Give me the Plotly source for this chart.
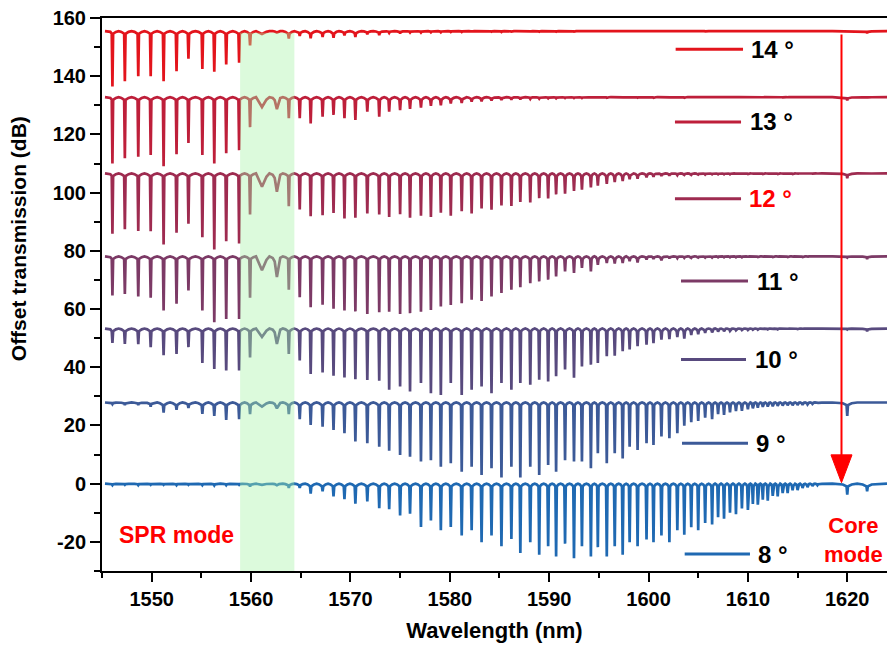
import plotly.graph_objects as go

# ---------------- data ----------------
angle_labels = ["14 °", "13 °", "12 °", "11 °", "10 °", "9 °", "8 °"]
offsets_db = [155.5, 132.8, 106.6, 78.1, 53.3, 27.9, 0.0]
colors = ["#E3141C", "#BE1F3A", "#9E2B50", "#7C3A66", "#584A7E", "#3C5A98", "#1F69B2"]

wl_start = 1545.3
wl_end = 1624.0

# resonance (cladding-mode) wavelengths, nm
dip_wl = [1546.05, 1547.3, 1548.65, 1549.9, 1551.2, 1552.5, 1553.7, 1555.1, 1556.3, 1557.5, 1558.8,
          1559.9, 1561.1, 1562.6, 1563.8, 1564.9, 1566.0, 1567.2, 1568.3, 1569.4, 1570.5, 1571.7, 1572.9,
          1573.9, 1575.0, 1576.0, 1577.1, 1578.1, 1579.1, 1580.1, 1581.2, 1582.2, 1583.2,
          1584.2, 1585.2, 1586.2, 1587.1, 1588.1, 1589.0, 1589.9, 1590.7, 1591.6, 1592.5,
          1593.3, 1594.2, 1594.9, 1595.8, 1596.6, 1597.4, 1598.1, 1598.9, 1599.8, 1600.5,
          1601.3, 1602.1, 1602.9,
          1603.6, 1604.3, 1605.0, 1605.7, 1606.4, 1607.0, 1607.6, 1608.2, 1608.8, 1609.4,
          1610.0, 1610.5, 1611.0, 1611.5, 1612.0, 1612.5, 1613.0, 1613.5, 1614.0, 1614.5,
          1615.0, 1615.5, 1616.0, 1616.5, 1617.0,
          1620.0, 1622.0]

# resonance half-widths, nm (broad SPR-shifted resonances inside the green band)
dip_halfwidth = [0.07] * 12 + [0.45, 0.22] + [0.07] * 69

# resonance depths (dB) per tilt angle
depth_14 = [19.0, 17.2, 15.5, 15.5, 17.2, 13.8, 9.5, 13.0, 14.0, 11.5, 10.9,
            4.9, 1.0, 0.5, 2.6, 1.7, 2.5, 2.0, 2.3, 1.5, 2.0, 1.1, 1.4,
            0.6, 0.8, 0.5, 0.5, 0.4, 0.4, 0.3, 0.3, 0.2, 0.2,
            0.2, 0.3, 0.2, 0.2, 0.3, 0.2, 0.2, 0.2, 0.2, 0.2,
            0.1, 0.1, 0.1, 0.1, 0.1, 0.1, 0.1, 0.1, 0.1, 0.1,
            0.1, 0.1, 0.1,
            0.1, 0.1, 0.1, 0.1, 0.1, 0.1, 0.1, 0.1, 0.1, 0.1,
            0.1, 0.1, 0.1, 0.1, 0.1, 0.1, 0.1, 0.1, 0.1, 0.1,
            0.1, 0.1, 0.1, 0.1, 0.1,
            0.2, 0.7]
depth_13 = [22.8, 21.0, 20.5, 19.9, 23.7, 19.6, 15.7, 19.9, 22.8, 19.3, 18.2,
            10.3, 3.4, 4.1, 7.2, 7.2, 9.0, 6.7, 6.1, 7.2, 7.8, 5.0, 6.7,
            5.0, 4.5, 4.0, 3.6, 3.0, 2.8, 2.2, 2.0, 1.6, 1.5,
            1.2, 1.0, 0.9, 0.8, 0.6, 0.5, 0.4, 0.4, 0.3, 0.3,
            0.3, 0.2, 0.2, 0.2, 0.2, 0.2, 0.2, 0.2, 0.2, 0.2,
            0.2, 0.2, 0.2,
            0.2, 0.1, 0.1, 0.1, 0.1, 0.1, 0.1, 0.1, 0.1, 0.1,
            0.1, 0.1, 0.1, 0.1, 0.1, 0.1, 0.1, 0.1, 0.1, 0.1,
            0.1, 0.1, 0.1, 0.1, 0.1,
            1.1, 0.2]
depth_12 = [20.7, 19.2, 19.8, 19.9, 24.4, 20.4, 17.3, 21.9, 26.1, 23.3, 24.1,
            14.1, 4.6, 6.3, 11.3, 12.4, 14.7, 14.4, 13.6, 15.5, 15.2, 13.8, 14.1,
            15.0, 14.0, 15.2, 14.5, 15.0, 13.5, 14.5, 13.0, 13.8, 12.0,
            12.5, 11.0, 11.2, 9.8, 10.0, 8.5, 8.6, 7.2, 7.0, 6.0,
            5.6, 4.8, 4.2, 3.6, 3.0, 2.6, 2.0, 1.8, 1.4, 1.2,
            0.9, 0.8, 0.6,
            0.5, 0.5, 0.4, 0.4, 0.3, 0.3, 0.3, 0.3, 0.2, 0.2,
            0.2, 0.2, 0.2, 0.2, 0.2, 0.2, 0.2, 0.2, 0.2, 0.2,
            0.2, 0.2, 0.1, 0.1, 0.1,
            1.6, 0.2]
depth_11 = [13.4, 12.9, 13.8, 14.2, 18.6, 16.3, 11.7, 18.6, 22.6, 21.5, 21.5,
            14.2, 4.8, 7.1, 11.5, 14.0, 17.5, 16.6, 18.0, 18.6, 18.9, 19.8, 19.2,
            19.0, 19.8, 19.5, 19.0, 18.4, 17.2, 16.7, 16.1, 14.9, 15.3,
            13.8, 12.6, 11.5, 10.6, 9.2, 8.6, 8.0, 6.9, 5.2, 5.7,
            4.0, 5.2, 2.9, 2.3, 2.5, 2.3, 1.7, 2.1, 1.1, 0.9,
            1.4, 0.7, 0.6,
            0.5, 0.5, 0.4, 0.4, 0.4, 0.3, 0.3, 0.3, 0.3, 0.3,
            0.2, 0.2, 0.2, 0.2, 0.2, 0.2, 0.2, 0.2, 0.2, 0.2,
            0.2, 0.2, 0.2, 0.1, 0.1,
            0.4, 0.9]
depth_10 = [4.9, 5.3, 5.4, 6.4, 9.2, 8.7, 6.4, 11.8, 13.9, 14.4, 14.4,
            9.9, 2.9, 5.3, 8.7, 11.0, 15.6, 15.1, 16.2, 16.8, 17.4, 17.7, 17.9,
            21.0, 19.9, 21.6, 18.7, 22.2, 22.8, 18.7, 22.8, 21.0, 19.9,
            22.2, 18.7, 21.0, 18.7, 19.3, 17.6, 18.2, 16.4, 14.1, 16.9,
            13.0, 12.4, 11.8, 9.5, 9.3, 7.8, 7.2, 6.1, 5.5, 5.0,
            3.8, 3.6, 2.9,
            3.5, 2.2, 2.0, 1.5, 1.3, 1.0, 0.9, 0.8, 0.6, 0.5,
            0.5, 0.4, 0.4, 0.3, 0.3, 0.3, 0.3, 0.2, 0.2, 0.2,
            0.2, 0.2, 0.2, 0.1, 0.1,
            0.3, 0.9]
depth_9 = [0.6, 0.9, 0.9, 1.4, 3.5, 2.5, 1.9, 3.9, 4.6, 6.0, 5.7,
           4.0, 1.4, 2.0, 4.0, 5.7, 7.7, 8.3, 9.4, 10.6, 13.4, 14.0, 15.2,
           16.6, 18.0, 18.6, 20.3, 19.8, 22.1, 20.9, 23.8, 22.1, 24.9,
           22.6, 25.8, 22.1, 25.8, 22.1, 24.9, 21.5, 23.8, 19.8, 20.3,
           20.3, 22.6, 17.4, 20.9, 17.4, 19.2, 15.2, 16.3, 14.0, 14.6,
           11.7, 12.3, 10.6,
           8.0, 6.8, 6.3, 5.2, 5.7, 4.0, 4.3, 3.4, 3.0, 2.9,
           2.3, 2.0, 1.8, 1.5, 1.4, 1.3, 1.2, 1.1, 1.0, 1.0,
           0.9, 0.8, 0.7, 0.5, 0.3,
           4.6, 0.1]
depth_8 = [0.5, 0.4, 0.5, 0.4, 0.4, 0.5, 0.4, 0.5, 0.6, 0.5, 0.4,
           1.0, 0.4, 0.5, 1.5, 1.5, 3.4, 2.6, 4.4, 5.3, 6.9, 6.1, 8.4,
           8.8, 10.9, 10.3, 14.9, 12.6, 16.0, 14.9, 17.8, 16.0, 20.1,
           17.8, 21.5, 19.0, 23.8, 20.1, 24.4, 21.5, 25.0, 20.6, 25.6,
           21.5, 25.0, 21.8, 25.0, 21.5, 24.4, 20.1, 21.5, 19.2, 20.1,
           17.8, 20.1, 16.0,
           17.5, 15.0, 16.0, 13.5, 14.0, 11.5, 12.0, 10.0, 10.5, 8.5,
           9.0, 7.0, 7.2, 5.5, 5.8, 4.2, 4.4, 3.2, 3.2, 2.3,
           2.2, 1.5, 1.2, 0.8, 0.5,
           3.8, 2.6]

depths = [depth_14, depth_13, depth_12, depth_11, depth_10, depth_9, depth_8]

x_tickvals = [1550, 1560, 1570, 1580, 1590, 1600, 1610, 1620]
y_tickvals = [-20, 0, 20, 40, 60, 80, 100, 120, 140, 160]
y_ticktext = ["-20", "0", "20", "40", "60", "80", "100", "120", "140", "160"]

spr_band = (1558.9, 1564.36)
core_mode_wl = 1619.42


# ---------------- build each spectrum from its resonances ----------------
def spectrum(base, dep):
    n = len(dip_wl)
    xs, ys = [wl_start], [base]
    for i, lam in enumerate(dip_wl):
        gl = lam - dip_wl[i - 1] if i > 0 else lam - wl_start
        gr = dip_wl[i + 1] - lam if i < n - 1 else wl_end - lam
        d = dep[i]
        hw = dip_halfwidth[i]
        broad = hw > 0.1
        w = 0.25 * d if broad else min(0.9, 0.35 * d)
        if i > 0:
            xs.append(lam - 0.5 * gl); ys.append(base)
        sl = min(0.28 * gl, 0.45)
        if sl > hw + 0.02:
            xs.append(lam - sl); ys.append(base - 0.3 * w)
        xs += [lam - hw, lam, lam + hw]
        ys += [base - w, base - d, base - w]
        sr = min(0.28 * gr, 0.45)
        if sr > hw + 0.02:
            xs.append(lam + sr); ys.append(base - 0.3 * w)
    xs.append(wl_end); ys.append(base)
    return xs, ys


fig = go.Figure()
for lab, base, dep, col in zip(angle_labels, offsets_db, depths, colors):
    xs, ys = spectrum(base, dep)
    fig.add_trace(go.Scatter(x=xs, y=ys, mode="lines", name=lab,
                             line=dict(color=col, width=2.7), showlegend=False,
                             hoverinfo="skip"))

FONT = "Liberation Sans, Arial, sans-serif"

shapes = []
# SPR band (translucent, drawn over the curves)
shapes.append(dict(type="rect", xref="x", yref="y", x0=spr_band[0], x1=spr_band[1],
                   y0=-30, y1=154.9, fillcolor="rgba(168,243,168,0.4)",
                   line=dict(width=0), layer="above"))
# core-mode arrow
shapes.append(dict(type="line", xref="x", yref="y", x0=core_mode_wl, x1=core_mode_wl,
                   y0=154.3, y1=9.0, line=dict(color="#FF0000", width=2), layer="above"))
shapes.append(dict(type="path", xref="x", yref="y",
                   path=f"M {core_mode_wl-1.06},9.9 L {core_mode_wl+1.06},9.9 L {core_mode_wl},0.35 Z",
                   fillcolor="#FF0000", line=dict(color="#FF0000", width=1), layer="above"))

# hand-placed legend (line + label), as in the reference
legend_geom = [  # x0, x1, y, text x
    (1602.73, 1609.51, 149.3, 1610.1),
    (1602.66, 1609.31, 124.3, 1610.0),
    (1602.66, 1609.31, 97.9, 1609.9),
    (1603.27, 1610.01, 69.6, 1610.7),
    (1603.27, 1609.81, 42.7, 1610.5),
    (1603.37, 1610.01, 13.9, 1610.6),
    (1603.64, 1610.21, -24.2, 1610.8),
]
annotations = []
for (x0, x1, yv, xt), lab, col in zip(legend_geom, angle_labels, colors):
    shapes.append(dict(type="line", xref="x", yref="y", x0=x0, x1=x1, y0=yv, y1=yv,
                       line=dict(color=col, width=3)))
    annotations.append(dict(x=xt, y=yv, xref="x", yref="y", text=lab, showarrow=False,
                            xanchor="left", yanchor="middle",
                            font=dict(family=FONT, size=24, weight="bold",
                                      color="#FF0000" if lab.startswith("12") else "black")))

annotations.append(dict(x=1552.45, y=-17.6, xref="x", yref="y", text="SPR mode", showarrow=False,
                        xanchor="center", yanchor="middle",
                        font=dict(family=FONT, size=23, weight="bold", color="#FF0000")))
annotations.append(dict(x=1620.6, y=-19.5, xref="x", yref="y", text="Core<br>mode", showarrow=False,
                        xanchor="center", yanchor="middle",
                        font=dict(family=FONT, size=22, weight="bold", color="#FF0000")))
# y-axis title, placed as in the reference (slightly above the axis centre)
annotations.append(dict(x=-0.107, y=0.60, xref="paper", yref="paper",
                        text="Offset transmission (dB)", showarrow=False, textangle=-90,
                        xanchor="center", yanchor="middle",
                        font=dict(family=FONT, size=21, weight="bold", color="black")))

fig.update_layout(
    width=887, height=648,
    margin=dict(l=102, r=0, t=18, b=77),
    paper_bgcolor="white", plot_bgcolor="white",
    shapes=shapes, annotations=annotations,
    xaxis=dict(range=[1545, 1624], tickvals=x_tickvals, showgrid=False, zeroline=False,
               automargin=False,
               showline=True, linecolor="black", linewidth=2, mirror=True,
               ticks="outside", ticklen=9, tickwidth=2, tickcolor="black",
               minor=dict(dtick=5, tick0=1545, ticks="outside", ticklen=5, tickwidth=2,
                          tickcolor="black", showgrid=False),
               tickfont=dict(family=FONT, size=20, weight="bold", color="black"),
               title=dict(text="Wavelength (nm)", standoff=14,
                          font=dict(family=FONT, size=22, weight="bold", color="black"))),
    yaxis=dict(range=[-30, 160], tickvals=y_tickvals, ticktext=y_ticktext, showgrid=False,
               automargin=False,
               zeroline=False, showline=True, linecolor="black", linewidth=2,
               ticks="outside", ticklen=10, tickwidth=2, tickcolor="black",
               minor=dict(dtick=10, tick0=0, ticks="outside", ticklen=6, tickwidth=2,
                          tickcolor="black", showgrid=False),
               tickfont=dict(family=FONT, size=20, weight="bold", color="black")),
)

fig.write_html("out.html", config={"displayModeBar": False})

# remove the browser's default page margin so the figure sits at the window origin
with open("out.html", "r", encoding="utf-8") as fh:
    html = fh.read()
html = html.replace("<head>", "<head><style>html,body{margin:0;padding:0;overflow:hidden;}</style>", 1)
with open("out.html", "w", encoding="utf-8") as fh:
    fh.write(html)
